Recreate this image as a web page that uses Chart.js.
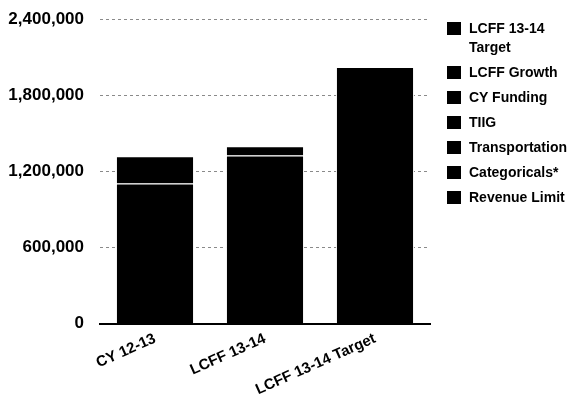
<!DOCTYPE html>
<html>
<head>
<meta charset="utf-8">
<script src="https://cdn.jsdelivr.net/npm/chart.js@4.4.1/dist/chart.umd.min.js"></script>
<style>
  html, body { margin: 0; padding: 0; background: #fff; }
  #wrap { position: relative; width: 570px; height: 411px; overflow: hidden; }
  #chart { position: absolute; left: 0; top: 0; }
  #legend {
    position: absolute; left: 447px; top: 19px; width: 123px;
    font: bold 14px "Liberation Sans", Arial, sans-serif; color: #000;
  }
  .item { display: flex; align-items: flex-start; margin-bottom: 6px; }
  .box { width: 14px; height: 13px; background: #000; flex: none; margin-top: 3px; margin-right: 8px; }
  .txt { line-height: 19px; width: 101px; }
</style>
</head>
<body>
<div id="wrap">
  <canvas id="chart" width="570" height="411"></canvas>
  <div id="legend"></div>
</div>
<script>
// Funding build-up per scenario (dollars)
const categories = ['CY 12-13', 'LCFF 13-14', 'LCFF 13-14 Target'];

const revenueLimit   = [1105000, null, null];
const categoricals   = [215000, null, null];
const transportation = [null, null, null];
const tiig           = [null, null, null];
const cyFunding      = [null, 1326000, null];
const lcffGrowth     = [null, 71000, null];
const lcffTarget     = [null, null, 2023000];

const yTicks = [0, 600000, 1200000, 1800000, 2400000];

const seriesNames = ['Revenue Limit', 'Categoricals*', 'Transportation', 'TIIG',
                     'CY Funding', 'LCFF Growth', 'LCFF 13-14 Target'];
const seriesValues = [revenueLimit, categoricals, transportation, tiig,
                      cyFunding, lcffGrowth, lcffTarget];
const seriesColors = ['#000', '#000', '#000', '#000', '#000', '#000', '#000'];

const datasets = seriesNames.map((name, i) => ({
  label: name,
  data: seriesValues[i],
  backgroundColor: seriesColors[i],
  borderColor: '#fff',
  borderWidth: 1,
  categoryPercentage: 1.0,
  barPercentage: 0.71
}));

const chart = new Chart(document.getElementById('chart'), {
  type: 'bar',
  data: { labels: categories, datasets },
  options: {
    responsive: false,
    animation: false,
    layout: { padding: { left: 8, right: 140, top: 19, bottom: 6 } },
    plugins: { legend: { display: false }, tooltip: { enabled: false } },
    scales: {
      x: {
        stacked: true,
        grid: { display: false, drawTicks: false },
        border: { display: true, color: '#000', width: 2 },
        ticks: {
          color: '#000',
          font: { family: 'Liberation Sans', size: 15, weight: 'bold' },
          minRotation: 24, maxRotation: 24, padding: 6
        },
        // let the rotated first label hang left of the plot instead of shifting it
        afterFit: (scale) => { scale.paddingLeft = 0; scale.paddingRight = 0; }
      },
      y: {
        stacked: true,
        min: yTicks[0],
        max: yTicks[yTicks.length - 1],
        afterBuildTicks: (scale) => { scale.ticks = yTicks.map(v => ({ value: v })); },
        grid: { color: '#8a8a8a', drawTicks: false, lineWidth: 1 },
        border: { display: false, dash: [3, 3] },
        ticks: {
          color: '#000',
          padding: 16,
          font: { family: 'Liberation Sans', size: 17, weight: 'bold' },
          callback: (v) => Number(v).toLocaleString('en-US')
        },
        // fixed label column; top label may overhang the plot edge
        afterFit: (scale) => { scale.width = 92; scale.paddingTop = 0; }
      }
    }
  }
});

// Legend listed top-down, last series first
const legendEl = document.getElementById('legend');
chart.data.datasets.slice().reverse().forEach(ds => {
  const item = document.createElement('div');
  item.className = 'item';
  const box = document.createElement('span');
  box.className = 'box';
  box.style.background = ds.backgroundColor;
  const txt = document.createElement('span');
  txt.className = 'txt';
  txt.textContent = ds.label;
  item.appendChild(box);
  item.appendChild(txt);
  legendEl.appendChild(item);
});
</script>
</body>
</html>
